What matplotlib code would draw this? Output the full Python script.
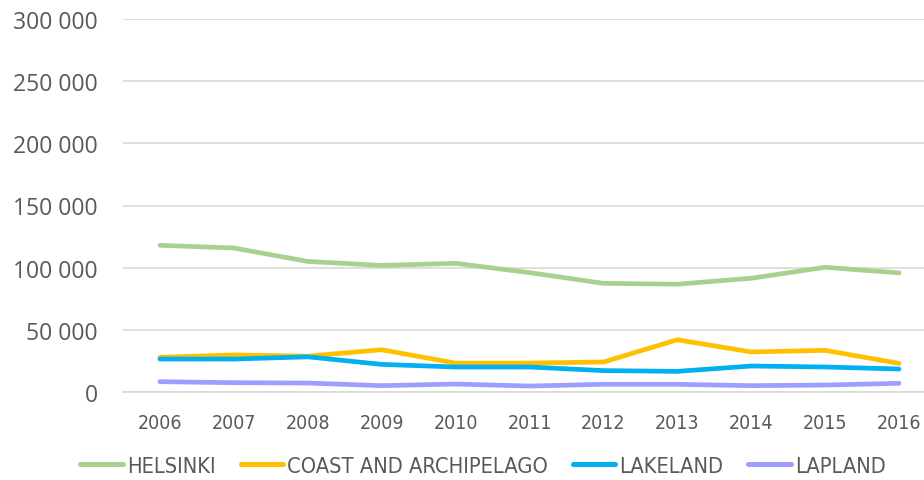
import matplotlib.pyplot as plt
from matplotlib.font_manager import FontProperties
from matplotlib.ticker import FuncFormatter

years = [2006, 2007, 2008, 2009, 2010, 2011, 2012, 2013, 2014, 2015, 2016]
helsinki = [118000, 115800, 105000, 101800, 103500, 96000, 87400, 86700, 91500, 100300, 95800]
coast = [27900, 29800, 28800, 34000, 23200, 23300, 24100, 42000, 32200, 33500, 23000]
lakeland = [26500, 26500, 28300, 22200, 20100, 20100, 17200, 16600, 20900, 20100, 18500]
lapland = [8300, 7500, 7200, 5100, 6400, 4800, 6200, 6200, 5100, 5600, 7000]

labels = ["HELSINKI", "COAST AND ARCHIPELAGO", "LAKELAND", "LAPLAND"]
colors = ["#A9D18E", "#FFC000", "#00B0F0", "#9E9EFF"]

txt = "#595959"
cond = FontProperties(family="DejaVu Sans", stretch="condensed", size=15.7)

fig = plt.figure(figsize=(9.24, 4.81), dpi=100)
# axes reaches slightly past the right edge, as in the original crop
ax = fig.add_axes([123 / 924, 1 - 393 / 481, (936 - 123) / 924, 373 / 481])

for vals, lab, col in zip([helsinki, coast, lakeland, lapland], labels, colors):
    ax.plot(years, vals, color=col, lw=3.4, label=lab, solid_capstyle="round", clip_on=False)

ax.set_xlim(2005.5, 2016.5)
ax.set_ylim(0, 300000)
ax.set_yticks(range(0, 300001, 50000))
ax.yaxis.set_major_formatter(FuncFormatter(lambda v, p: f"{int(v):,}".replace(",", " ")))
ax.set_xticks(years)

ax.grid(axis="y", color="#D9D9D9", lw=1.2)
ax.set_axisbelow(True)
for s in ["top", "right", "left"]:
    ax.spines[s].set_visible(False)
ax.spines["bottom"].set_color("#D9D9D9")
ax.spines["bottom"].set_linewidth(1.2)
ax.tick_params(length=0)
ax.tick_params(axis="y", pad=18, labelsize=16.5, labelcolor=txt)
ax.tick_params(axis="x", pad=15, labelcolor=txt)
for t in ax.get_yticklabels():
    t.set_family(["Open Sans", "DejaVu Sans"])
for t in ax.get_xticklabels():
    t.set_fontproperties(FontProperties(family="DejaVu Sans", stretch="condensed", size=14))

leg = fig.legend(loc="center", bbox_to_anchor=(483 / 924, 1 - 467 / 481), ncol=4, frameon=False,
                 handlelength=1.95, columnspacing=1.15, handletextpad=0.18,
                 prop=cond, labelcolor=txt)
for h in leg.legend_handles:
    h.set_linewidth(3.6)

fig.savefig("out.png", dpi=100)
